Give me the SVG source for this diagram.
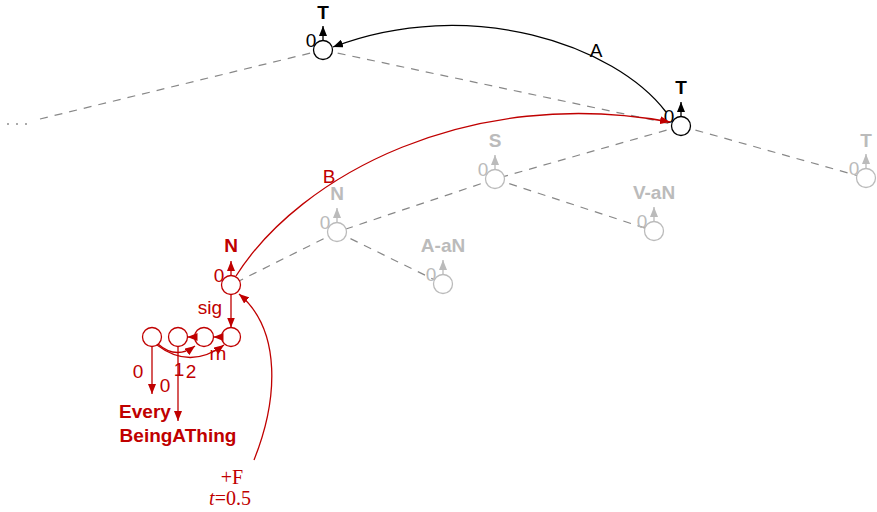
<svg xmlns="http://www.w3.org/2000/svg" width="877" height="512" viewBox="0 0 877 512">
<defs>
<marker id="ab" markerUnits="userSpaceOnUse" markerWidth="10" markerHeight="8" refX="10" refY="4" orient="auto"><path d="M0,0 L10,4 L0,8 z" fill="#000"/></marker>
<marker id="ar" markerUnits="userSpaceOnUse" markerWidth="10" markerHeight="8" refX="10" refY="4" orient="auto"><path d="M0,0 L10,4 L0,8 z" fill="#c00000"/></marker>
<marker id="ag" markerUnits="userSpaceOnUse" markerWidth="10" markerHeight="8" refX="10" refY="4" orient="auto"><path d="M0,0 L10,4 L0,8 z" fill="#bbb"/></marker>
</defs>
<style>
text{font-family:"Liberation Sans",Arial,sans-serif;font-size:19px;text-anchor:middle}
.lb{font-weight:bold}
.dash{stroke:#888;stroke-width:1.2;stroke-dasharray:8 7;fill:none}
.c{fill:#fff;stroke-width:1.3}
.k .c{stroke:#000}.k text{fill:#000}.k line{stroke:#000;stroke-width:1.3;marker-end:url(#ab)}
.g .c{stroke:#bbb}.g text{fill:#bbb}.g line{stroke:#bbb;stroke-width:1.3;marker-end:url(#ag)}
.r .c{stroke:#c00000}.r text{fill:#c00000}.r line{stroke:#c00000;stroke-width:1.3;marker-end:url(#ar)}
.er{stroke:#c00000;stroke-width:1.3;fill:none;marker-end:url(#ar)}
.eb{stroke:#000;stroke-width:1.3;fill:none;marker-end:url(#ab)}
.tm{font-family:"Liberation Serif","Times New Roman",serif;font-size:20px;fill:#c00000}
</style>
<g id="edges">
<rect x="7" y="123" width="2" height="2" fill="#aaa"/>
<rect x="16" y="123" width="2" height="2" fill="#aaa"/>
<rect x="25" y="123" width="2" height="2" fill="#aaa"/>
<line class="dash" x1="40" y1="119" x2="323" y2="50"/>
<line class="dash" x1="323" y1="50" x2="681" y2="126"/>
<line class="dash" x1="681" y1="126" x2="866" y2="178"/>
<line class="dash" x1="681" y1="126" x2="495" y2="179"/>
<line class="dash" x1="495" y1="179" x2="337" y2="232"/>
<line class="dash" x1="495" y1="179" x2="654" y2="231"/>
<line class="dash" x1="337" y1="232" x2="443" y2="284"/>
<line class="dash" x1="337" y1="232" x2="231" y2="285"/>
</g>
<g id="nT1" class="k"><circle class="c" cx="323" cy="50" r="9.5"/><line x1="323" y1="40" x2="323" y2="26"/><text x="311" y="47">0</text><text class="lb" x="323" y="19">T</text></g>
<g id="nT2" class="k"><circle class="c" cx="681" cy="126" r="9.5"/><line x1="681" y1="116" x2="681" y2="102"/><text x="669" y="123">0</text><text class="lb" x="681" y="94">T</text></g>
<g id="nS" class="g"><circle class="c" cx="495" cy="179" r="9.5"/><line x1="495" y1="169" x2="495" y2="155"/><text x="483" y="176">0</text><text class="lb" x="495" y="147">S</text></g>
<g id="nN" class="g"><circle class="c" cx="337" cy="232" r="9.5"/><line x1="337" y1="222" x2="337" y2="208"/><text x="325" y="229">0</text><text class="lb" x="337" y="200">N</text></g>
<g id="nAaN" class="g"><circle class="c" cx="443" cy="284" r="9.5"/><line x1="443" y1="274" x2="443" y2="260"/><text x="431" y="281">0</text><text class="lb" x="443" y="252">A-aN</text></g>
<g id="nVaN" class="g"><circle class="c" cx="654" cy="231" r="9.5"/><line x1="654" y1="221" x2="654" y2="207"/><text x="642" y="228">0</text><text class="lb" x="654" y="199">V-aN</text></g>
<g id="nT3" class="g"><circle class="c" cx="866" cy="178" r="9.5"/><line x1="866" y1="168" x2="866" y2="154"/><text x="854" y="175">0</text><text class="lb" x="866" y="147">T</text></g>
<g id="nNr" class="r"><circle class="c" cx="231" cy="285" r="9.5"/><line x1="231" y1="275" x2="231" y2="261"/><text x="219" y="282">0</text><text class="lb" x="231" y="252">N</text>
<line x1="231" y1="294.5" x2="231" y2="327.5"/><text x="210" y="314">sig</text></g>
<g id="nR1" class="r"><circle class="c" cx="152" cy="337" r="9.5"/><line x1="152" y1="346.5" x2="152" y2="394"/><text x="138" y="378">0</text></g>
<g id="nR2" class="r"><circle class="c" cx="178" cy="337" r="9.5"/><line x1="178" y1="346.5" x2="178" y2="421"/><text x="165" y="392">0</text></g>
<g id="nR3" class="r"><circle class="c" cx="204" cy="337" r="9.5"/><line x1="195" y1="337" x2="187.5" y2="337"/></g>
<g id="nR4" class="r"><circle class="c" cx="231" cy="337" r="9.5"/><line x1="222" y1="337" x2="213.5" y2="337"/></g>
<g id="connectors">
<path class="eb" d="M666,112 C615,45 470,-5 333,47"/>
<text x="596" y="57">A</text>
<path class="er" d="M236,276 C300,175 470,85 670,122"/>
<text x="329" y="183" fill="#c00000">B</text>
<path class="er" d="M158,344 Q176,360 195,346"/>
<path class="er" d="M157,345 Q190,370 224,345"/>
<text x="179" y="376" fill="#c00000">1</text>
<text x="191" y="378" fill="#c00000">2</text>
<text x="218" y="360" fill="#c00000">rn</text>
<path class="er" d="M254,460 C278,400 282,330 239,294"/>
</g>
<g id="leaves">
<text class="lb" x="145" y="418" fill="#c00000">Every</text>
<text class="lb" x="178" y="442" fill="#c00000">BeingAThing</text>
<text class="tm" x="232" y="484">+F</text>
<text class="tm" x="230" y="505"><tspan font-style="italic">t</tspan>=0.5</text>
</g>
</svg>
